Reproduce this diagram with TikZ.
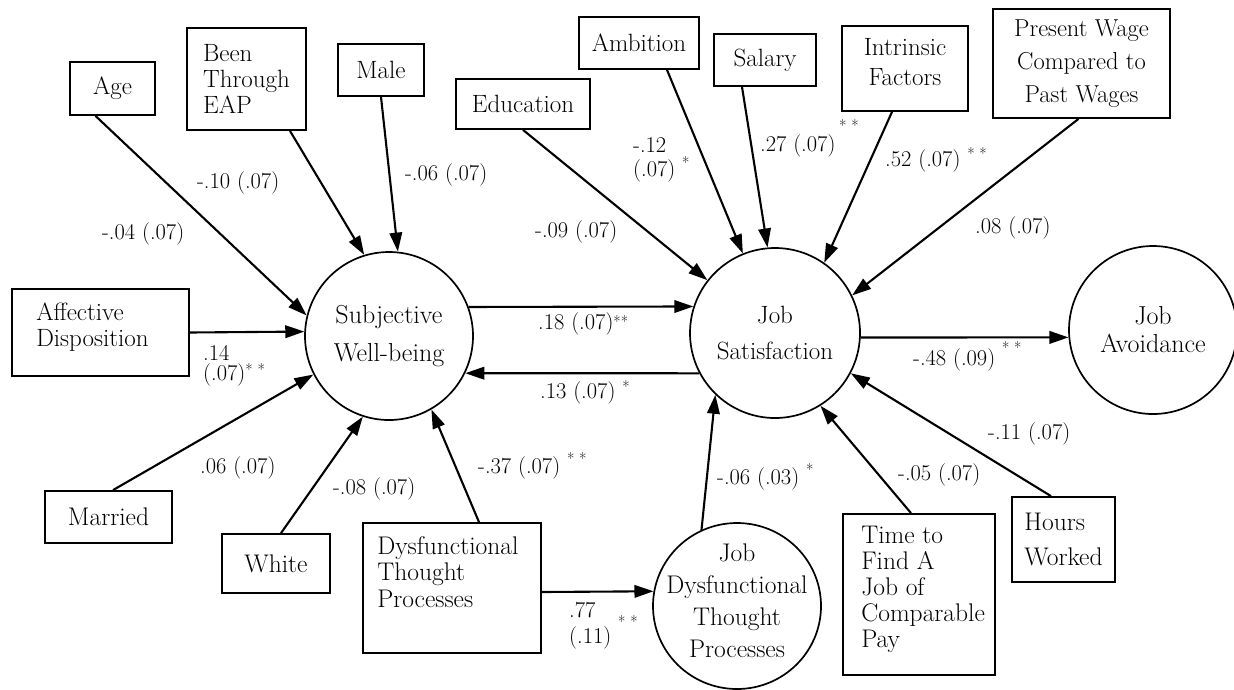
\documentclass[tikz,border=0pt]{standalone}
\usetikzlibrary{arrows.meta,shapes.geometric,calc}
\newcommand{\sig}[2][7pt]{\smash{\raisebox{#1}{\fontsize{16}{16}\selectfont #2}}}
\begin{document}
\begin{tikzpicture}[x=1pt,y=-1pt,
  box/.style={draw, line width=1.8pt, inner sep=0pt, font=\fontsize{25}{26}\selectfont, align=center},
  lbox/.style={box, align=left},
  latent/.style={draw, circle, line width=1.7pt, inner sep=0pt, align=center},
  arr/.style={line width=2.1pt, -{Triangle[length=19pt,width=12.5pt]}},
  lab/.style={font=\fontsize{22.5}{24}\selectfont, inner sep=0pt, anchor=west, align=left},
]
\useasboundingbox (0,0) rectangle (1234,689);
% observed boxes
\node[box, minimum width=85pt, minimum height=53pt] (age) at (112.5,88.5) {Age};
\node[lbox, minimum width=119pt, minimum height=102pt] (eap) at (246.5,79) {Been\\Through\\EAP};
\node[box, minimum width=86pt, minimum height=52pt] (male) at (381,70) {Male};
\node[box, minimum width=134pt, minimum height=50pt] (edu) at (523,104) {Education};
\node[box, minimum width=120pt, minimum height=52pt] (amb) at (639,43) {Ambition};
\node[box, minimum width=102pt, minimum height=52pt] (sal) at (765,60) {Salary};
\node[box, minimum width=126pt, minimum height=85pt] (intr) at (905,68.5) {};
\node[align=center, inner sep=0pt, font=\fontsize{25}{30}\selectfont] (intrtext) at ([yshift=6pt]intr.center) {Intrinsic\\Factors};
\node[box, minimum width=177pt, minimum height=109pt, font=\fontsize{24.5}{33}\selectfont] (pw) at (1081.5,63.5) {Present Wage\\Compared to\\Past Wages};
\node[lbox, minimum width=177pt, minimum height=87pt] (aff) at (100.5,332.5) {};
\node[align=left, inner sep=0pt, font=\fontsize{25}{26}\selectfont, anchor=west] (afftext) at ([shift={(25pt,5pt)}]aff.west) {Affective\\Disposition};
\node[box, minimum width=127pt, minimum height=52pt, font=\fontsize{25.5}{26}\selectfont] (mar) at (108.5,517) {Married};
\node[box, minimum width=108pt, minimum height=59pt, font=\fontsize{25.5}{26}\selectfont] (white) at (276,563.5) {White};
\node[lbox, minimum width=178pt, minimum height=130pt] (dtp) at (452,588) {};
\node[font=\fontsize{25.5}{26.5}\selectfont, align=left, anchor=north west, inner sep=0pt] (dtptext) at ([shift={(15pt,-14pt)}]dtp.north west) {Dysfunctional\\Thought\\Processes};
\node[lbox, minimum width=152pt, minimum height=161pt] (time) at (919,594.5) {};
\node[font=\fontsize{25.5}{26}\selectfont, align=left, anchor=west, inner sep=0pt] (timetext) at ([shift={(19pt,5pt)}]time.west) {Time to\\Find A\\Job of\\Comparable\\Pay};
\node[lbox, minimum width=103pt, minimum height=85pt, font=\fontsize{25.5}{35}\selectfont] (hours) at (1063.5,539.5) {Hours\\Worked};
% latent variables
\node[latent, minimum size=168pt, font=\fontsize{26}{38}\selectfont] (swb) at (389,336) {Subjective\\Well-being};
\node[latent, minimum size=170pt, font=\fontsize{25}{36}\selectfont] (js) at (775,333) {Job\\Satisfaction};
\node[latent, minimum size=168pt, font=\fontsize{26}{28}\selectfont] (ja) at (1153,330) {Job\\Avoidance};
\node[draw, ellipse, line width=1.7pt, inner sep=0pt, minimum width=168pt, minimum height=166pt] (jdtp) at (737,606) {};
\node[align=center, inner sep=0pt, font=\fontsize{25.5}{32}\selectfont] (jdtptext) at ([yshift=5.5pt]jdtp.center) {Job\\Dysfunctional\\Thought\\Processes};
% paths
\draw[arr] ([xshift=-17pt]age.south) -- (swb.166);
\draw[arr] ([xshift=43.5pt]eap.south) -- (swb.107);
\draw[arr] (male.south) -- (swb.84);
\draw[arr] (aff.east) -- (swb.177);
\draw[arr] ([xshift=4.5pt]mar.north) -- (swb.207);
\draw[arr] ([xshift=5pt]white.north) -- (swb.252);
\draw[arr] ([xshift=27pt]dtp.north) -- (swb.300);
\draw[arr] (swb.20) -- (js.162);
\draw[arr] (js.208) -- (swb.334);
\draw[arr] (js.357) -- (ja.185);
\draw[arr] (edu.south) -- (js.142);
\draw[arr] ([xshift=28pt]amb.south) -- (js.112);
\draw[arr] ([xshift=-23pt]sal.south) -- (js.95);
\draw[arr] ([xshift=-13pt]intr.south) -- (js.55);
\draw[arr] ([xshift=-3pt]pw.south) -- (js.26);
\draw[arr] ([xshift=-12.5pt]hours.north) -- (js.332);
\draw[arr] ([xshift=-8pt]time.north) -- (js.302);
\draw[arr] (jdtp.115) -- (js.226);
\draw[arr] ([yshift=-4pt]dtp.east) -- (jdtp.170);
% coefficients
\node[lab] (c1) at (197,183) {-.10 (.07)};
\node[lab] (c2) at (102,234) {-.04 (.07)};
\node[lab] (c3) at (405,175) {-.06 (.07)};
\node[lab] (c4) at (633,160) {-.12\\(.07) \sig[8pt]{*}};
\node[lab] (c5) at (760,146) {.27 (.07)\,\sig[20pt]{* *}};
\node[lab] (c6) at (885,161) {.52 (.07) \sig[7pt]{* *}};
\node[lab] (c7) at (535,232) {-.09 (.07)};
\node[lab] (c8) at (975,228) {.08 (.07)};
\node[lab, font=\fontsize{22.5}{20}\selectfont] (c9) at (203,366) {.14\\(.07)\sig[5pt]{* *}};
\node[lab] (c10) at (200,468) {.06 (.07)};
\node[lab] (c11) at (333,489) {-.08 (.07)};
\node[lab] (c12) at (538,324) {.18 (.07)\sig[2pt]{**}};
\node[lab] (c13) at (540,393) {.13 (.07) \sig[6pt]{*}};
\node[lab] (c14) at (478,468) {-.37 (.07) \sig[9pt]{* *}};
\node[lab] (c15) at (717,479) {-.06 (.03) \sig[9pt]{*}};
\node[lab] (c16) at (913,360) {-.48 (.09) \sig[12pt]{* *}};
\node[lab] (c17) at (988,434) {-.11 (.07)};
\node[lab] (c18) at (898,475) {-.05 (.07)};
\node[lab, font=\fontsize{22.5}{26}\selectfont] (c19) at (569,626) {.77\\(.11) \sig[16pt]{* *}};
\end{tikzpicture}
\end{document}
